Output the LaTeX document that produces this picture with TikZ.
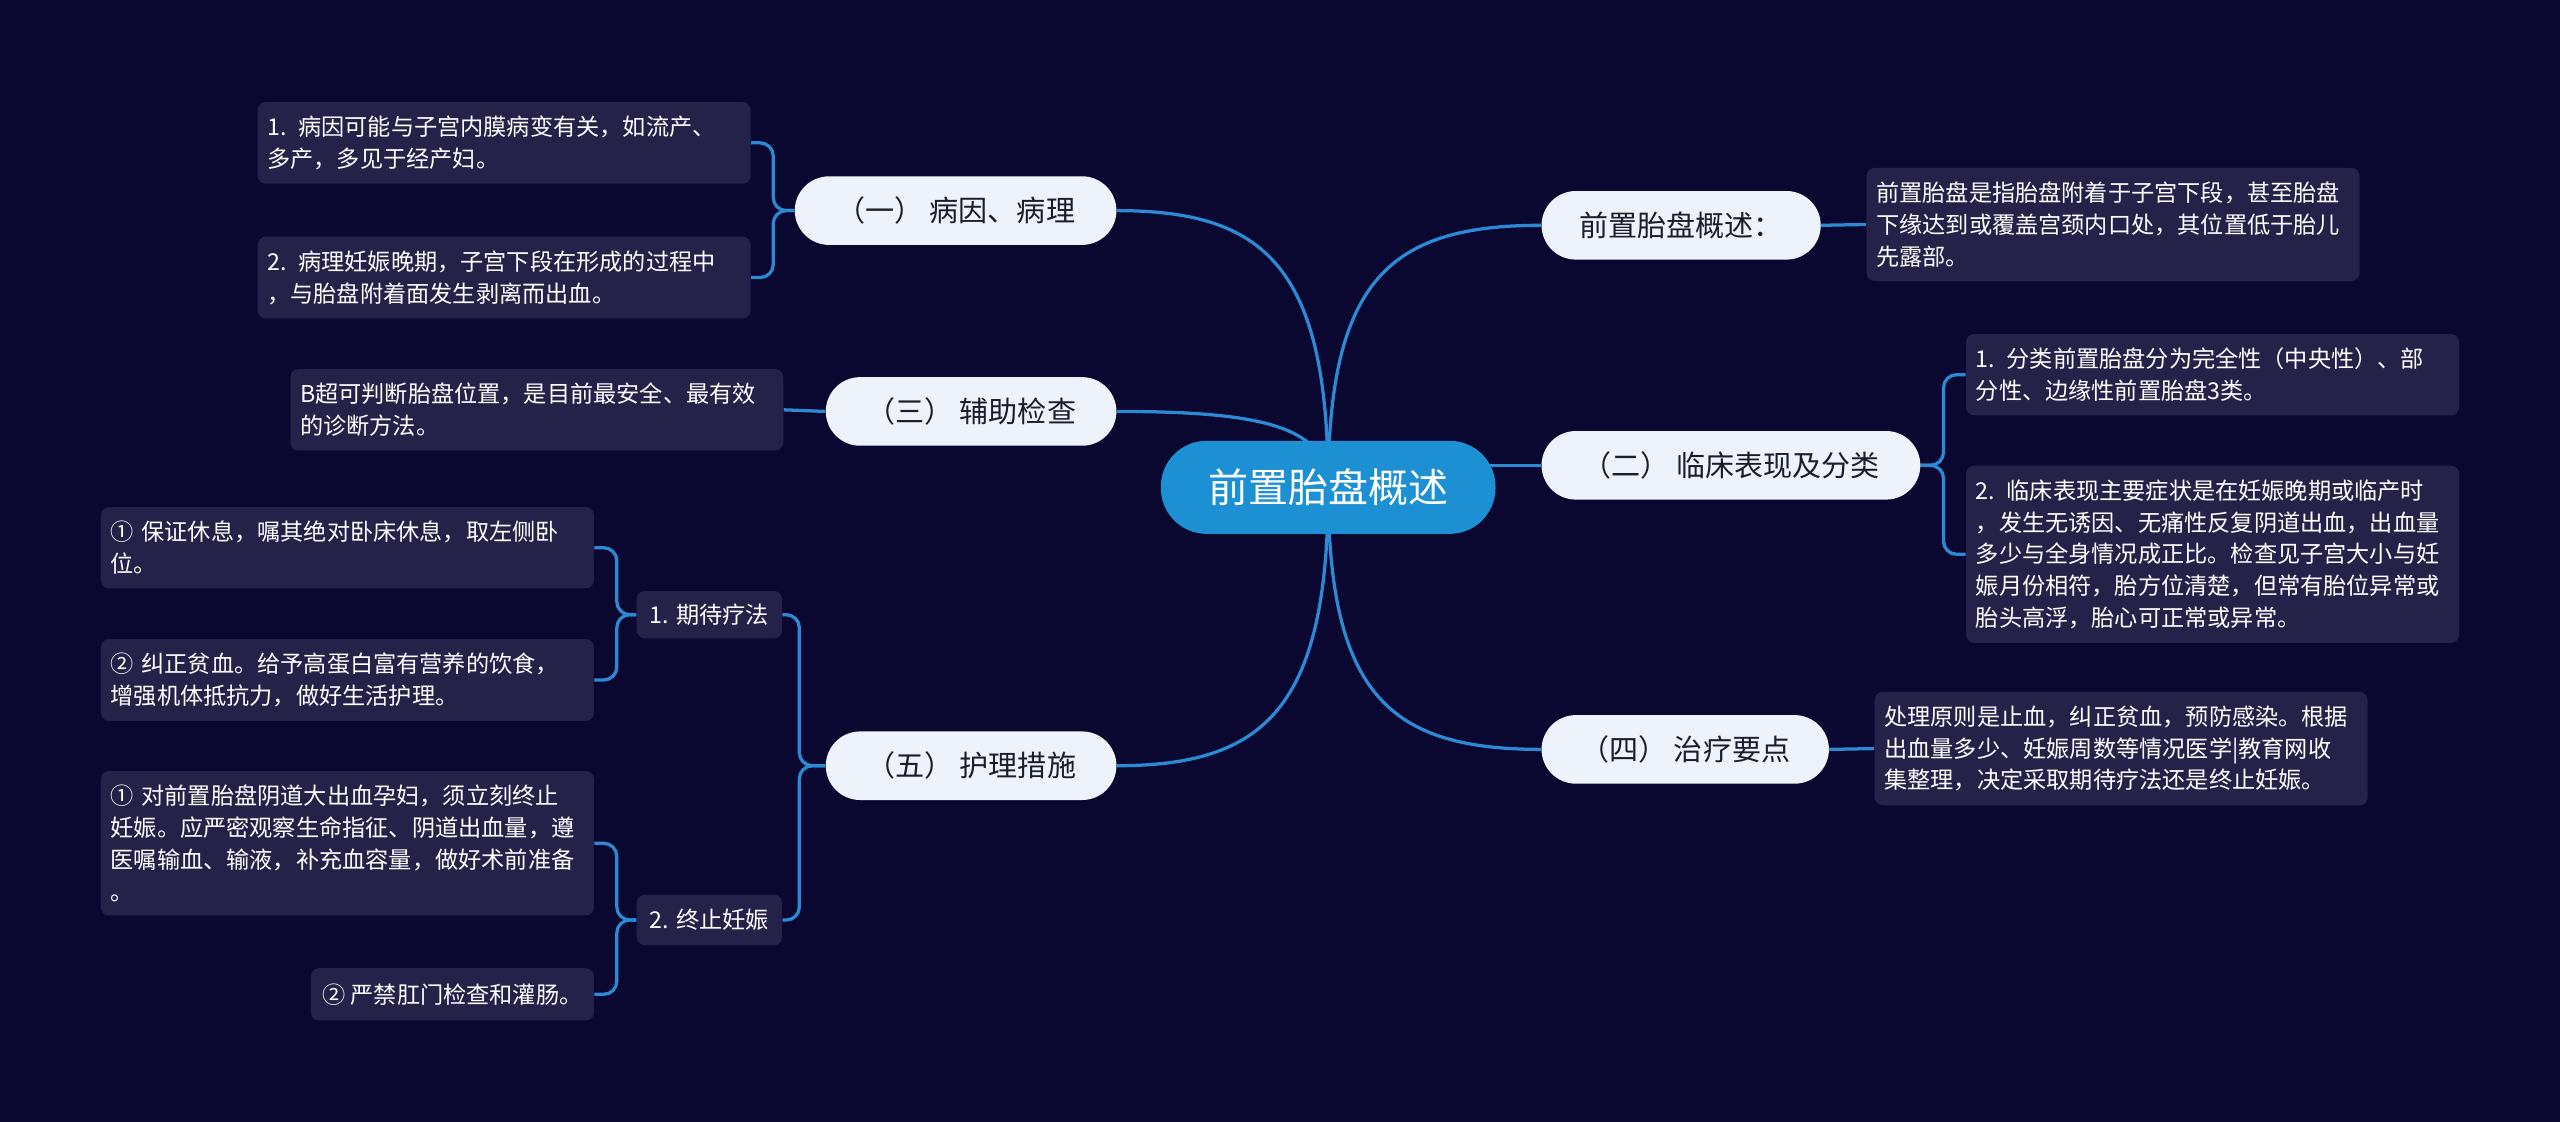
\documentclass[tikz,border=0pt]{standalone}
\usepackage{fontspec}
\setmainfont{Noto Sans CJK SC}
\usepackage{xcolor}
\usepackage{tikz}
\usetikzlibrary{backgrounds}
\definecolor{MapBg}{HTML}{0A0730}
\definecolor{MapNote}{HTML}{25224A}
\definecolor{MapPill}{HTML}{EEF3FB}
\definecolor{MapInk}{HTML}{1C1C2C}
\definecolor{MapBlue}{HTML}{1C90D2}
\definecolor{MapLine}{HTML}{2B8AD3}
\definecolor{MapWhite}{HTML}{FFFFFF}

\begin{document}
\begin{tikzpicture}[x=1pt,y=-1pt,
  rootnode/.style={fill=MapBlue,text=MapWhite,rounded corners=28pt,minimum width=205pt,
    minimum height=57pt,font=\fontsize{24.5}{30}\selectfont},
  pill/.style={fill=MapPill,text=MapInk,rounded corners=21pt,minimum height=42pt,
    font=\fontsize{17.8}{22}\selectfont},
  note/.style={fill=MapNote,text=MapWhite,rounded corners=5pt,text width=290pt,align=left,
    inner xsep=6pt,inner ysep=8.5pt,font=\fontsize{14.2}{19.5}\selectfont},
  leaf/.style={fill=MapNote,text=MapWhite,rounded corners=5pt,inner xsep=7pt,
    font=\fontsize{14.2}{19.5}\selectfont},
  link/.style={draw=MapLine,line width=2pt},
  bracket/.style={draw=MapLine,line width=2pt,rounded corners=8pt}]

  \node[rootnode] (root) at (813.5,298.5) {前置胎盘概述};

  % right branches
  \node[pill,anchor=west,minimum width=171pt] (p1) at (944,138) {前置胎盘概述：};
  \node[pill,anchor=west,minimum width=232pt] (p2) at (944,285) {（二） 临床表现及分类};
  \node[pill,anchor=west,minimum width=176pt] (p4) at (944,459) {（四） 治疗要点};

  \node[note,anchor=west] (n1) at (1143,137.5) {前置胎盘是指胎盘附着于子宫下段，甚至胎盘\\下缘达到或覆盖宫颈内口处，其位置低于胎儿\\先露部。};
  \node[note,anchor=west] (n2a) at (1204,229.5) {1. 分类前置胎盘分为完全性（中央性）、部\\分性、边缘性前置胎盘3类。};
  \node[note,anchor=west] (n2b) at (1204,339.5) {2. 临床表现主要症状是在妊娠晚期或临产时\\，发生无诱因、无痛性反复阴道出血，出血量\\多少与全身情况成正比。检查见子宫大小与妊\\娠月份相符，胎方位清楚，但常有胎位异常或\\胎头高浮，胎心可正常或异常。};
  \node[note,anchor=west] (n4) at (1148,458.5) {处理原则是止血，纠正贫血，预防感染。根据\\出血量多少、妊娠周数等情况医学|教育网收\\集整理，决定采取期待疗法还是终止妊娠。};

  % left branches
  \node[pill,anchor=east,minimum width=197pt] (pa) at (684,129) {（一） 病因、病理};
  \node[pill,anchor=east,minimum width=178pt] (p3) at (684,252) {（三） 辅助检查};
  \node[pill,anchor=east,minimum width=178pt] (p5) at (684,469) {（五） 护理措施};

  \node[note,anchor=east] (na1) at (460,87.5) {1. 病因可能与子宫内膜病变有关，如流产、\\多产，多见于经产妇。};
  \node[note,anchor=east] (na2) at (460,170) {2. 病理妊娠晚期，子宫下段在形成的过程中\\，与胎盘附着面发生剥离而出血。};
  \node[note,anchor=east] (n3) at (480,251) {B超可判断胎盘位置，是目前最安全、最有效\\的诊断方法。};

  \node[leaf,minimum width=89pt,minimum height=29pt] (s1) at (434.5,376.5) {1. 期待疗法};
  \node[leaf,minimum width=89pt,minimum height=31pt] (s2) at (434.5,563.5) {2. 终止妊娠};

  \node[note,anchor=east] (q1) at (364,335.5) {① 保证休息，嘱其绝对卧床休息，取左侧卧\\位。};
  \node[note,anchor=east] (q2) at (364,416.5) {② 纠正贫血。给予高蛋白富有营养的饮食，\\增强机体抵抗力，做好生活护理。};
  \node[note,anchor=east] (t1) at (364,516.5) {① 对前置胎盘阴道大出血孕妇，须立刻终止\\妊娠。应严密观察生命指征、阴道出血量，遵\\医嘱输血、输液，补充血容量，做好术前准备\\。};
  \node[leaf,anchor=east,minimum height=32pt] (t2) at (364,609) {② 严禁肛门检查和灌肠。};

  \begin{scope}[on background layer]
    \fill[MapBg] (0,0) rectangle (1568,687);
    \draw[link] (root.center) .. controls +(0,-128) and +(-92,0) .. (p1.west);
    \draw[link] (p2.west -| root.center) -- (p2.west);
    \draw[link] (root.center) .. controls +(0,128) and +(-92,0) .. (p4.west);
    \draw[link] (root.center) .. controls +(0,-136) and +(90,0) .. (pa.east);
    \draw[link] (root.center) .. controls +(0,-37) and +(90,0) .. (p3.east);
    \draw[link] (root.center) .. controls +(0,136) and +(90,0) .. (p5.east);

    \draw[link] (p1.east) -- (n1.west);
    \draw[link] (p4.east) -- (n4.west);
    \draw[link] (p3.west) -- (n3.east);
    \foreach \n in {n2a,n2b} \draw[bracket] (p2.east) -- ++(14,0) |- (\n.west);
    \foreach \n in {na1,na2} \draw[bracket] (pa.west) -- ++(-13,0) |- (\n.east);
    \foreach \n in {s1,s2} \draw[bracket] (p5.west) -- ++(-16,0) |- (\n.east);
    \foreach \n in {q1,q2} \draw[bracket] (s1.west) -- ++(-12,0) |- (\n.east);
    \foreach \n in {t1,t2} \draw[bracket] (s2.west) -- ++(-12,0) |- (\n.east);
  \end{scope}
\end{tikzpicture}
\end{document}
